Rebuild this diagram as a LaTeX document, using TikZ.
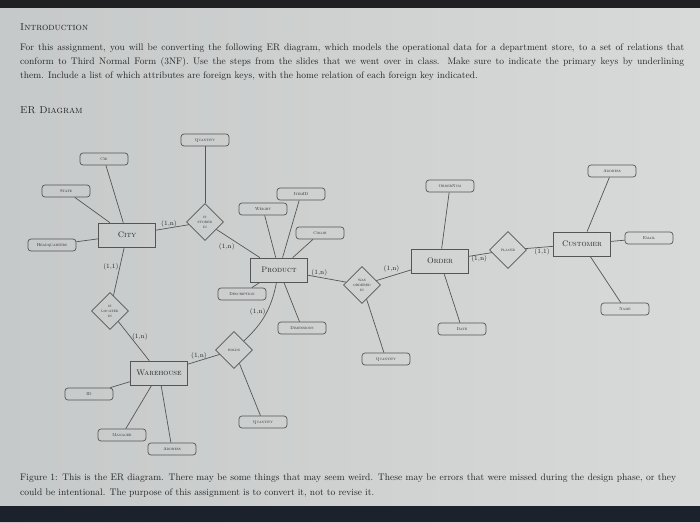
\documentclass[tikz,border=0pt]{standalone}
\usetikzlibrary{shapes.geometric}

\definecolor{paper}{RGB}{216,218,217}
\definecolor{paperdark}{RGB}{198,201,201}
\definecolor{ink}{RGB}{35,35,35}
\definecolor{linegray}{RGB}{85,85,85}
\definecolor{screenedge}{RGB}{32,32,34}
\definecolor{taskbar}{RGB}{28,34,44}

\begin{document}
\begin{tikzpicture}[x=1pt,y=-1pt,
  text=ink,
  every edge/.style={draw=linegray,line width=.7pt},
  entity/.style={draw=linegray,line width=.7pt,minimum width=57pt,minimum height=24pt,
    inner sep=1pt,font=\fontsize{8}{9}\selectfont\scshape},
  attr/.style={draw=linegray,line width=.7pt,rounded corners=3pt,minimum width=48pt,
    minimum height=12pt,inner sep=1pt,font=\fontsize{4.2}{5}\selectfont\scshape},
  rel/.style={draw=linegray,line width=.7pt,diamond,aspect=1,minimum width=37pt,
    minimum height=37pt,inner sep=0pt,align=center,font=\fontsize{4.2}{5}\selectfont\scshape},
  card/.style={inner sep=1pt,font=\fontsize{6.5}{7}\selectfont},
  bodytext/.style={anchor=base west,inner sep=0pt,font=\fontsize{9.5}{14}\selectfont},
  heading/.style={anchor=base west,inner sep=0pt,font=\fontsize{10}{12}\selectfont\scshape}]

  % screen photo frame
  \useasboundingbox (0,0) rectangle (700,522);
  \shade[left color=paperdark,right color=paper] (0,0) rectangle (700,522);
  \fill[screenedge] (0,0) rectangle (700,8);
  \fill[taskbar] (0,506) rectangle (700,522);

  % page text
  \path
  node[heading] (intro_head) at (20,30) {Introduction}
  node[bodytext] (intro_1) at (20,50) {\makebox[664pt][s]{For this assignment, you will be converting the following ER diagram, which models the operational data for a department store, to a set of relations that}}
  node[bodytext] (intro_2) at (20,64) {\makebox[664pt][s]{conform to Third Normal Form (3NF). Use the steps from the slides that we went over in class. Make sure to indicate the primary keys by underlining}}
  node[bodytext] (intro_3) at (20,78) {them. Include a list of which attributes are foreign keys, with the home relation of each foreign key indicated.}
  node[heading] (er_head) at (20,113) {ER Diagram}
  node[bodytext] (fig_1) at (20,480) {\makebox[656pt][s]{Figure 1: This is the ER diagram. There may be some things that may seem weird. These may be errors that were missed during the design phase, or they}}
  node[bodytext] (fig_2) at (20,495) {could be intentional. The purpose of this assignment is to convert it, not to revise it.}
  ;

  % entities and relationships
  \path
  node[entity] (city)      at (127,235) {City}
  node[entity] (product)   at (279,270) {Product}
  node[entity] (order)     at (440,261) {Order}
  node[entity] (customer)  at (582,244) {Customer}
  node[entity] (warehouse) at (159,373) {Warehouse}
  node[rel] (stored)  at (205,222) {is\\stored\\in}
  node[rel] (located) at (110,311) {is\\located\\in}
  node[rel] (holds)   at (234,350) {holds}
  node[rel] (ordered) at (362,285) {was\\ordered\\in}
  node[rel] (placed)  at (508,250) {placed}
  ;

  % attributes
  \path
  node[attr] (city_id)   at (104,159) {Cid}
  node[attr] (city_st)   at (66,191)  {State}
  node[attr] (city_hq)   at (52,245)  {Headquarters}
  node[attr] (stored_q)  at (205,140) {Quantity}
  node[attr] (prod_wt)   at (263,209) {Weight}
  node[attr] (prod_id)   at (301,194) {ItemID}
  node[attr] (prod_col)  at (320,233) {Color}
  node[attr] (prod_desc) at (242,294) {Description}
  node[attr] (prod_dim)  at (302,328) {Dimensions}
  node[attr] (ordered_q) at (386,359) {Quantity}
  node[attr] (holds_q)   at (263,422) {Quantity}
  node[attr] (ord_num)   at (450,186) {OrderNum}
  node[attr] (ord_date)  at (462,329) {Date}
  node[attr] (cust_addr) at (612,171) {Address}
  node[attr] (cust_mail) at (649,238) {Email}
  node[attr] (cust_name) at (625,309) {Name}
  node[attr] (wh_id)     at (89,394)  {ID}
  node[attr] (wh_mgr)    at (122,435) {Manager}
  node[attr] (wh_addr)   at (172,449) {Address}
  ;

  % relationships with cardinalities
  \path
  (city) edge node[card,above,pos=.4] {(1,n)} (stored)
  (stored) edge node[card,below left,pos=.45] {(1,n)} (product)
  (city) edge node[card,left,pos=.4] {(1,1)} (located)
  (located) edge node[card,right,pos=.4] {(1,n)} (warehouse)
  (warehouse) edge node[card,above,pos=.35] {(1,n)} (holds)
  (holds) edge[bend right=18] node[card,left,pos=.55] {(1,n)} (product)
  (product) edge node[card,above,pos=.3] {(1,n)} (ordered)
  (ordered) edge node[card,above left,pos=.7] {(1,n)} (order)
  (order) edge node[card,below,pos=.45] {(1,n)} (placed)
  (placed) edge node[card,below,pos=.6] {(1,1)} (customer)
  ;

  % attribute links
  \path
  (city_id) edge (city)
  (city_st) edge (city)
  (city_hq) edge (city)
  (stored_q) edge (stored)
  (prod_wt) edge (product)
  (prod_id) edge (product)
  (prod_col) edge (product)
  (prod_desc) edge (product)
  (prod_dim) edge (product)
  (ordered_q) edge (ordered)
  (holds_q) edge (holds)
  (ord_num) edge (order)
  (ord_date) edge (order)
  (cust_addr) edge (customer)
  (cust_mail) edge (customer)
  (cust_name) edge (customer)
  (wh_id) edge (warehouse)
  (wh_mgr) edge (warehouse)
  (wh_addr) edge (warehouse)
  ;
\end{tikzpicture}
\end{document}
